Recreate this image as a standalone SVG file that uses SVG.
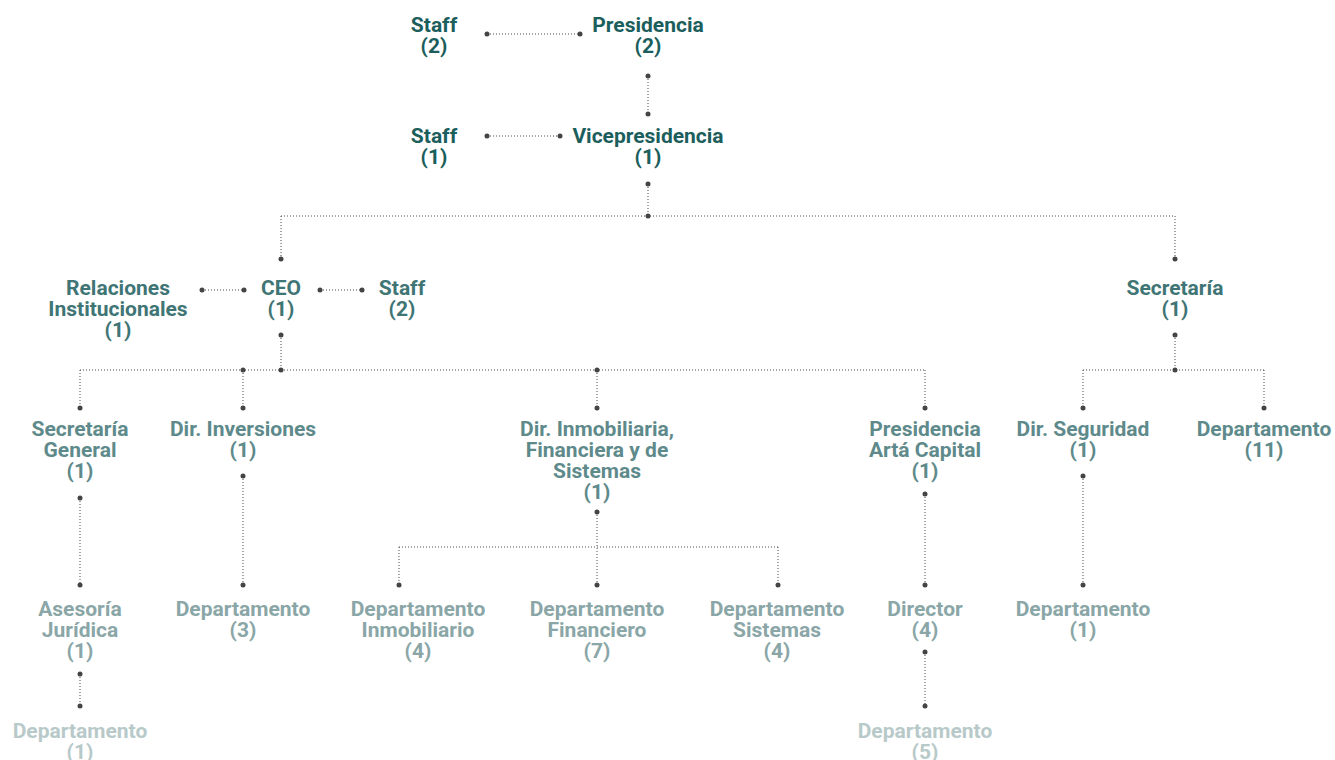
<svg xmlns="http://www.w3.org/2000/svg" width="1335" height="760" viewBox="0 0 1335 760">
<style>
text{font-family:Roboto,"Liberation Sans",sans-serif;font-weight:700;font-size:21px;text-anchor:middle}
.l1{fill:#1b5e5c}.l2{fill:#3f7575}.l3{fill:#5e8a8b}.l4{fill:#8aa6a7}.l5{fill:#b8c9c9}
.c line{stroke:#4a4a4a;stroke-width:1;stroke-dasharray:1 2;fill:none}
.c circle{fill:#444}
</style>
<rect width="1335" height="760" fill="#fff"/>
<g id="connectors" class="c">
<line x1="487" y1="34" x2="580" y2="34"/>
<line x1="648" y1="76" x2="648" y2="114"/>
<line x1="487" y1="136" x2="560" y2="136"/>
<line x1="648" y1="184" x2="648" y2="216"/>
<line x1="281" y1="216" x2="1175" y2="216"/>
<line x1="281" y1="216" x2="281" y2="259"/>
<line x1="1175" y1="216" x2="1175" y2="259"/>
<line x1="202" y1="290" x2="244" y2="290"/>
<line x1="320" y1="290" x2="362" y2="290"/>
<line x1="281" y1="335" x2="281" y2="370"/>
<line x1="80" y1="370" x2="925" y2="370"/>
<line x1="80" y1="370" x2="80" y2="408"/>
<line x1="243" y1="370" x2="243" y2="408"/>
<line x1="597" y1="370" x2="597" y2="408"/>
<line x1="925" y1="370" x2="925" y2="408"/>
<line x1="1175" y1="335" x2="1175" y2="370"/>
<line x1="1083" y1="370" x2="1264" y2="370"/>
<line x1="1083" y1="370" x2="1083" y2="408"/>
<line x1="1264" y1="370" x2="1264" y2="408"/>
<line x1="80" y1="498" x2="80" y2="585"/>
<line x1="243" y1="476" x2="243" y2="585"/>
<line x1="597" y1="512" x2="597" y2="585"/>
<line x1="399" y1="547" x2="778" y2="547"/>
<line x1="399" y1="547" x2="399" y2="585"/>
<line x1="778" y1="547" x2="778" y2="585"/>
<line x1="925" y1="494" x2="925" y2="585"/>
<line x1="1083" y1="476" x2="1083" y2="585"/>
<line x1="80" y1="674" x2="80" y2="706"/>
<line x1="925" y1="652" x2="925" y2="706"/>
<circle cx="487" cy="34" r="2.5"/><circle cx="580" cy="34" r="2.5"/>
<circle cx="648" cy="76" r="2.5"/><circle cx="648" cy="114" r="2.5"/>
<circle cx="487" cy="136" r="2.5"/><circle cx="560" cy="136" r="2.5"/>
<circle cx="648" cy="184" r="2.5"/><circle cx="648" cy="216" r="2.5"/>
<circle cx="281" cy="259" r="2.5"/><circle cx="1175" cy="259" r="2.5"/>
<circle cx="202" cy="290" r="2.5"/><circle cx="244" cy="290" r="2.5"/>
<circle cx="320" cy="290" r="2.5"/><circle cx="362" cy="290" r="2.5"/>
<circle cx="281" cy="335" r="2.5"/><circle cx="281" cy="370" r="2.5"/>
<circle cx="243" cy="370" r="2.5"/><circle cx="597" cy="370" r="2.5"/>
<circle cx="1175" cy="335" r="2.5"/><circle cx="1175" cy="370" r="2.5"/>
<circle cx="80" cy="408" r="2.5"/><circle cx="243" cy="408" r="2.5"/>
<circle cx="597" cy="408" r="2.5"/><circle cx="925" cy="408" r="2.5"/>
<circle cx="1083" cy="408" r="2.5"/><circle cx="1264" cy="408" r="2.5"/>
<circle cx="80" cy="498" r="2.5"/><circle cx="243" cy="476" r="2.5"/>
<circle cx="597" cy="512" r="2.5"/><circle cx="925" cy="494" r="2.5"/>
<circle cx="1083" cy="476" r="2.5"/>
<circle cx="80" cy="585" r="2.5"/><circle cx="243" cy="585" r="2.5"/>
<circle cx="399" cy="585" r="2.5"/><circle cx="597" cy="585" r="2.5"/>
<circle cx="778" cy="585" r="2.5"/><circle cx="925" cy="585" r="2.5"/>
<circle cx="1083" cy="585" r="2.5"/>
<circle cx="80" cy="674" r="2.5"/><circle cx="80" cy="706" r="2.5"/>
<circle cx="925" cy="652" r="2.5"/><circle cx="925" cy="706" r="2.5"/>
</g>
<g id="staff-presidencia"><text class="l1" x="434" y="32">Staff</text><text class="l1" x="434" y="53">(2)</text></g>
<g id="presidencia"><text class="l1" x="648" y="32">Presidencia</text><text class="l1" x="648" y="53">(2)</text></g>
<g id="staff-vice"><text class="l1" x="434" y="143">Staff</text><text class="l1" x="434" y="164">(1)</text></g>
<g id="vicepresidencia"><text class="l1" x="648" y="143">Vicepresidencia</text><text class="l1" x="648" y="164">(1)</text></g>
<g id="relaciones"><text class="l2" x="118" y="295">Relaciones</text><text class="l2" x="118" y="316">Institucionales</text><text class="l2" x="118" y="337">(1)</text></g>
<g id="ceo"><text class="l2" x="281" y="295">CEO</text><text class="l2" x="281" y="316">(1)</text></g>
<g id="staff-ceo"><text class="l2" x="402" y="295">Staff</text><text class="l2" x="402" y="316">(2)</text></g>
<g id="secretaria"><text class="l2" x="1175" y="295">Secretaría</text><text class="l2" x="1175" y="316">(1)</text></g>
<g id="secretaria-general"><text class="l3" x="80" y="436">Secretaría</text><text class="l3" x="80" y="457">General</text><text class="l3" x="80" y="478">(1)</text></g>
<g id="dir-inversiones"><text class="l3" x="243" y="436">Dir. Inversiones</text><text class="l3" x="243" y="457">(1)</text></g>
<g id="dir-inmobiliaria"><text class="l3" x="597" y="436">Dir. Inmobiliaria,</text><text class="l3" x="597" y="457">Financiera y de</text><text class="l3" x="597" y="478">Sistemas</text><text class="l3" x="597" y="499">(1)</text></g>
<g id="presidencia-arta"><text class="l3" x="925" y="436">Presidencia</text><text class="l3" x="925" y="457">Artá Capital</text><text class="l3" x="925" y="478">(1)</text></g>
<g id="dir-seguridad"><text class="l3" x="1083" y="436">Dir. Seguridad</text><text class="l3" x="1083" y="457">(1)</text></g>
<g id="departamento-11"><text class="l3" x="1264" y="436">Departamento</text><text class="l3" x="1264" y="457">(11)</text></g>
<g id="asesoria"><text class="l4" x="80" y="616">Asesoría</text><text class="l4" x="80" y="637">Jurídica</text><text class="l4" x="80" y="658">(1)</text></g>
<g id="departamento-3"><text class="l4" x="243" y="616">Departamento</text><text class="l4" x="243" y="637">(3)</text></g>
<g id="dep-inmobiliario"><text class="l4" x="418" y="616">Departamento</text><text class="l4" x="418" y="637">Inmobiliario</text><text class="l4" x="418" y="658">(4)</text></g>
<g id="dep-financiero"><text class="l4" x="597" y="616">Departamento</text><text class="l4" x="597" y="637">Financiero</text><text class="l4" x="597" y="658">(7)</text></g>
<g id="dep-sistemas"><text class="l4" x="777" y="616">Departamento</text><text class="l4" x="777" y="637">Sistemas</text><text class="l4" x="777" y="658">(4)</text></g>
<g id="director"><text class="l4" x="925" y="616">Director</text><text class="l4" x="925" y="637">(4)</text></g>
<g id="departamento-seg"><text class="l4" x="1083" y="616">Departamento</text><text class="l4" x="1083" y="637">(1)</text></g>
<g id="departamento-asesoria"><text class="l5" x="80" y="738">Departamento</text><text class="l5" x="80" y="759">(1)</text></g>
<g id="departamento-5"><text class="l5" x="925" y="738">Departamento</text><text class="l5" x="925" y="759">(5)</text></g>
</svg>
